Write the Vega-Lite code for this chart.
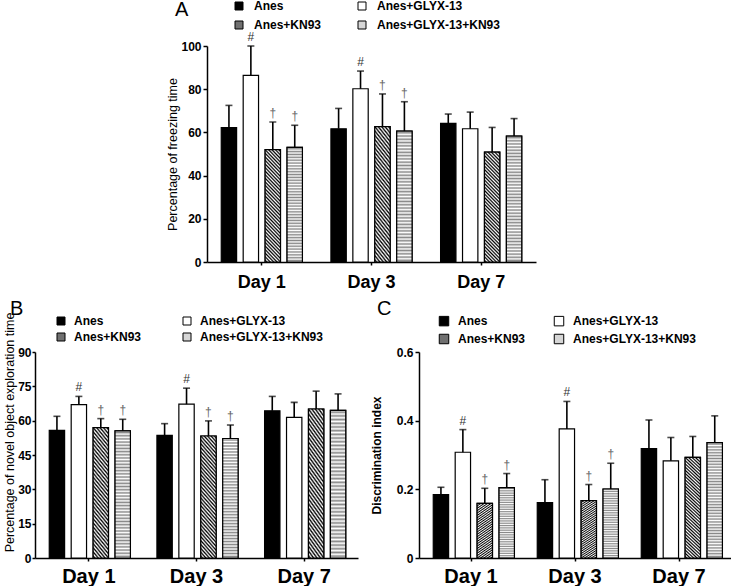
{
"$schema": "https://vega.github.io/schema/vega-lite/v6.json",
"usermeta": {"embedOptions": {"actions": false}},
"padding": {"left": 3, "top": 0, "right": 0, "bottom": 0},
"config": {
  "view": {"stroke": null},
  "font": "Liberation Sans",
  "text": {"font": "Liberation Sans"},
  "axis": {"domainColor": "black", "tickColor": "black", "labelColor": "black", "titleColor": "black", "grid": false, "domainWidth": 1.5, "tickWidth": 1.5, "labelFont": "Liberation Sans", "titleFont": "Liberation Sans"},
  "legend": {"labelColor": "black", "titleColor": "black", "labelFont": "Liberation Sans", "titleFont": "Liberation Sans", "symbolStrokeColor": "black", "symbolStrokeWidth": 1}
},
"datasets": {
  "a": [
    {"day":"Day 1","group":"Anes","value":62.2,"err":72.5,"sig":""},
    {"day":"Day 1","group":"Anes+GLYX-13","value":86.4,"err":100,"sig":"#"},
    {"day":"Day 1","group":"Anes+KN93","value":52.0,"err":64.8,"sig":"†"},
    {"day":"Day 1","group":"Anes+GLYX-13+KN93","value":53.1,"err":63.3,"sig":"†"},
    {"day":"Day 3","group":"Anes","value":61.7,"err":71.1,"sig":""},
    {"day":"Day 3","group":"Anes+GLYX-13","value":80.2,"err":88.4,"sig":"#"},
    {"day":"Day 3","group":"Anes+KN93","value":62.7,"err":77.8,"sig":"†"},
    {"day":"Day 3","group":"Anes+GLYX-13+KN93","value":60.6,"err":74.2,"sig":"†"},
    {"day":"Day 7","group":"Anes","value":64.2,"err":68.5,"sig":""},
    {"day":"Day 7","group":"Anes+GLYX-13","value":61.7,"err":69.4,"sig":""},
    {"day":"Day 7","group":"Anes+KN93","value":50.9,"err":62.3,"sig":""},
    {"day":"Day 7","group":"Anes+GLYX-13+KN93","value":58.3,"err":66.4,"sig":""}
  ],
  "b": [
    {"day":"Day 1","group":"Anes","value":55.8,"err":61.9,"sig":""},
    {"day":"Day 1","group":"Anes+GLYX-13","value":67.0,"err":70.6,"sig":"#"},
    {"day":"Day 1","group":"Anes+KN93","value":57.0,"err":60.9,"sig":"†"},
    {"day":"Day 1","group":"Anes+GLYX-13+KN93","value":55.5,"err":60.6,"sig":"†"},
    {"day":"Day 3","group":"Anes","value":53.6,"err":58.7,"sig":""},
    {"day":"Day 3","group":"Anes+GLYX-13","value":67.2,"err":74.2,"sig":"#"},
    {"day":"Day 3","group":"Anes+KN93","value":53.3,"err":59.9,"sig":"†"},
    {"day":"Day 3","group":"Anes+GLYX-13+KN93","value":52.2,"err":58.1,"sig":"†"},
    {"day":"Day 7","group":"Anes","value":64.3,"err":70.6,"sig":""},
    {"day":"Day 7","group":"Anes+GLYX-13","value":61.4,"err":68.0,"sig":""},
    {"day":"Day 7","group":"Anes+KN93","value":65.1,"err":72.9,"sig":""},
    {"day":"Day 7","group":"Anes+GLYX-13+KN93","value":64.5,"err":71.7,"sig":""}
  ],
  "c": [
    {"day":"Day 1","group":"Anes","value":0.185,"err":0.206,"sig":""},
    {"day":"Day 1","group":"Anes+GLYX-13","value":0.308,"err":0.374,"sig":"#"},
    {"day":"Day 1","group":"Anes+KN93","value":0.159,"err":0.203,"sig":"†"},
    {"day":"Day 1","group":"Anes+GLYX-13+KN93","value":0.205,"err":0.246,"sig":"†"},
    {"day":"Day 3","group":"Anes","value":0.161,"err":0.228,"sig":""},
    {"day":"Day 3","group":"Anes+GLYX-13","value":0.376,"err":0.456,"sig":"#"},
    {"day":"Day 3","group":"Anes+KN93","value":0.167,"err":0.214,"sig":"†"},
    {"day":"Day 3","group":"Anes+GLYX-13+KN93","value":0.201,"err":0.276,"sig":"†"},
    {"day":"Day 7","group":"Anes","value":0.319,"err":0.402,"sig":""},
    {"day":"Day 7","group":"Anes+GLYX-13","value":0.283,"err":0.351,"sig":""},
    {"day":"Day 7","group":"Anes+KN93","value":0.293,"err":0.354,"sig":""},
    {"day":"Day 7","group":"Anes+GLYX-13+KN93","value":0.336,"err":0.414,"sig":""}
  ]
},
"resolve": {"scale": {"fill": "independent"}, "legend": {"fill": "independent"}},
"spacing": 21,
"vconcat": [
  {
    "spacing": 0,
    "resolve": {"scale": {"fill": "independent"}, "legend": {"fill": "independent"}},
    "hconcat": [
      {"width": 131, "height": 10, "data": {"values": []}, "mark": {"type": "point", "opacity": 0}},
      {
        "width": 329, "height": 216,
        "data": {"name": "a"},
        "encoding": {
          "x": {"field": "day", "type": "nominal", "title": null, "scale": {"paddingInner": 0, "paddingOuter": 0}, "axis": {"labelAngle": 0, "labelFontSize": 18, "labelFontWeight": "bold", "tickSize": 3, "labelPadding": 8}},
          "xOffset": {"field": "group", "type": "nominal", "scale": {"domain": ["Anes","Anes+GLYX-13","Anes+KN93","Anes+GLYX-13+KN93"], "paddingInner": 0.3, "paddingOuter": 0.65}},
          "y": {"field": "value", "type": "quantitative", "title": "Percentage of freezing time", "scale": {"domain": [0, 100]}, "axis": {"values": [0,20,40,60,80,100], "titleFontSize": 12.5, "titleFontWeight": "normal", "titlePadding": 1, "labelFontSize": 12, "labelFontWeight": "bold", "tickSize": 4, "labelPadding": 2}}
        },
        "layer": [
          {"mark": {"type": "bar", "stroke": "black", "strokeWidth": 1.2},
           "encoding": {
             "fill": {"field": "group", "type": "nominal", "scale": {"domain": ["Anes","Anes+KN93","Anes+GLYX-13","Anes+GLYX-13+KN93"], "range": ["#000000","#707070","#ffffff","#d6d6d6"]},
               "legend": {"title": "A", "orient": "none", "legendX": -32, "legendY": -46, "columns": 2, "columnPadding": 34, "rowPadding": 7, "titleOrient": "left", "titleAnchor": "start", "titleFontSize": 20, "titleFontWeight": "normal", "titleBaseline": "top", "titlePadding": 44, "labelFontSize": 12, "labelFontWeight": "bold", "labelOffset": 9, "symbolType": "square", "symbolSize": 64, "padding": 0}}
           }},
          {"transform": [{"filter": "datum.group === 'Anes+KN93'"}],
           "mark": {"type": "bar", "stroke": "black", "strokeWidth": 1.2,
             "fill": {"gradient": "linear", "x1": 0, "y1": 1, "x2": 0.16, "y2": -0.12, "stops": [{"offset":0,"color":"#fff"},{"offset":0.0139,"color":"#000"},{"offset":0.0278,"color":"#fff"},{"offset":0.0417,"color":"#000"},{"offset":0.0556,"color":"#fff"},{"offset":0.0694,"color":"#000"},{"offset":0.0833,"color":"#fff"},{"offset":0.0972,"color":"#000"},{"offset":0.1111,"color":"#fff"},{"offset":0.125,"color":"#000"},{"offset":0.1389,"color":"#fff"},{"offset":0.1528,"color":"#000"},{"offset":0.1667,"color":"#fff"},{"offset":0.1806,"color":"#000"},{"offset":0.1944,"color":"#fff"},{"offset":0.2083,"color":"#000"},{"offset":0.2222,"color":"#fff"},{"offset":0.2361,"color":"#000"},{"offset":0.25,"color":"#fff"},{"offset":0.2639,"color":"#000"},{"offset":0.2778,"color":"#fff"},{"offset":0.2917,"color":"#000"},{"offset":0.3056,"color":"#fff"},{"offset":0.3194,"color":"#000"},{"offset":0.3333,"color":"#fff"},{"offset":0.3472,"color":"#000"},{"offset":0.3611,"color":"#fff"},{"offset":0.375,"color":"#000"},{"offset":0.3889,"color":"#fff"},{"offset":0.4028,"color":"#000"},{"offset":0.4167,"color":"#fff"},{"offset":0.4306,"color":"#000"},{"offset":0.4444,"color":"#fff"},{"offset":0.4583,"color":"#000"},{"offset":0.4722,"color":"#fff"},{"offset":0.4861,"color":"#000"},{"offset":0.5,"color":"#fff"},{"offset":0.5139,"color":"#000"},{"offset":0.5278,"color":"#fff"},{"offset":0.5417,"color":"#000"},{"offset":0.5556,"color":"#fff"},{"offset":0.5694,"color":"#000"},{"offset":0.5833,"color":"#fff"},{"offset":0.5972,"color":"#000"},{"offset":0.6111,"color":"#fff"},{"offset":0.625,"color":"#000"},{"offset":0.6389,"color":"#fff"},{"offset":0.6528,"color":"#000"},{"offset":0.6667,"color":"#fff"},{"offset":0.6806,"color":"#000"},{"offset":0.6944,"color":"#fff"},{"offset":0.7083,"color":"#000"},{"offset":0.7222,"color":"#fff"},{"offset":0.7361,"color":"#000"},{"offset":0.75,"color":"#fff"},{"offset":0.7639,"color":"#000"},{"offset":0.7778,"color":"#fff"},{"offset":0.7917,"color":"#000"},{"offset":0.8056,"color":"#fff"},{"offset":0.8194,"color":"#000"},{"offset":0.8333,"color":"#fff"},{"offset":0.8472,"color":"#000"},{"offset":0.8611,"color":"#fff"},{"offset":0.875,"color":"#000"},{"offset":0.8889,"color":"#fff"},{"offset":0.9028,"color":"#000"},{"offset":0.9167,"color":"#fff"},{"offset":0.9306,"color":"#000"},{"offset":0.9444,"color":"#fff"},{"offset":0.9583,"color":"#000"},{"offset":0.9722,"color":"#fff"},{"offset":0.9861,"color":"#000"},{"offset":1,"color":"#fff"}]}}},
          {"transform": [{"filter": "datum.group === 'Anes+GLYX-13+KN93'"}],
           "mark": {"type": "bar", "stroke": "black", "strokeWidth": 1.2,
             "fill": {"gradient": "linear", "x1": 0, "y1": 0, "x2": 0, "y2": 1, "stops": [{"offset":0,"color":"#fff"},{"offset":0.0125,"color":"#888"},{"offset":0.025,"color":"#fff"},{"offset":0.0375,"color":"#888"},{"offset":0.05,"color":"#fff"},{"offset":0.0625,"color":"#888"},{"offset":0.075,"color":"#fff"},{"offset":0.0875,"color":"#888"},{"offset":0.1,"color":"#fff"},{"offset":0.1125,"color":"#888"},{"offset":0.125,"color":"#fff"},{"offset":0.1375,"color":"#888"},{"offset":0.15,"color":"#fff"},{"offset":0.1625,"color":"#888"},{"offset":0.175,"color":"#fff"},{"offset":0.1875,"color":"#888"},{"offset":0.2,"color":"#fff"},{"offset":0.2125,"color":"#888"},{"offset":0.225,"color":"#fff"},{"offset":0.2375,"color":"#888"},{"offset":0.25,"color":"#fff"},{"offset":0.2625,"color":"#888"},{"offset":0.275,"color":"#fff"},{"offset":0.2875,"color":"#888"},{"offset":0.3,"color":"#fff"},{"offset":0.3125,"color":"#888"},{"offset":0.325,"color":"#fff"},{"offset":0.3375,"color":"#888"},{"offset":0.35,"color":"#fff"},{"offset":0.3625,"color":"#888"},{"offset":0.375,"color":"#fff"},{"offset":0.3875,"color":"#888"},{"offset":0.4,"color":"#fff"},{"offset":0.4125,"color":"#888"},{"offset":0.425,"color":"#fff"},{"offset":0.4375,"color":"#888"},{"offset":0.45,"color":"#fff"},{"offset":0.4625,"color":"#888"},{"offset":0.475,"color":"#fff"},{"offset":0.4875,"color":"#888"},{"offset":0.5,"color":"#fff"},{"offset":0.5125,"color":"#888"},{"offset":0.525,"color":"#fff"},{"offset":0.5375,"color":"#888"},{"offset":0.55,"color":"#fff"},{"offset":0.5625,"color":"#888"},{"offset":0.575,"color":"#fff"},{"offset":0.5875,"color":"#888"},{"offset":0.6,"color":"#fff"},{"offset":0.6125,"color":"#888"},{"offset":0.625,"color":"#fff"},{"offset":0.6375,"color":"#888"},{"offset":0.65,"color":"#fff"},{"offset":0.6625,"color":"#888"},{"offset":0.675,"color":"#fff"},{"offset":0.6875,"color":"#888"},{"offset":0.7,"color":"#fff"},{"offset":0.7125,"color":"#888"},{"offset":0.725,"color":"#fff"},{"offset":0.7375,"color":"#888"},{"offset":0.75,"color":"#fff"},{"offset":0.7625,"color":"#888"},{"offset":0.775,"color":"#fff"},{"offset":0.7875,"color":"#888"},{"offset":0.8,"color":"#fff"},{"offset":0.8125,"color":"#888"},{"offset":0.825,"color":"#fff"},{"offset":0.8375,"color":"#888"},{"offset":0.85,"color":"#fff"},{"offset":0.8625,"color":"#888"},{"offset":0.875,"color":"#fff"},{"offset":0.8875,"color":"#888"},{"offset":0.9,"color":"#fff"},{"offset":0.9125,"color":"#888"},{"offset":0.925,"color":"#fff"},{"offset":0.9375,"color":"#888"},{"offset":0.95,"color":"#fff"},{"offset":0.9625,"color":"#888"},{"offset":0.975,"color":"#fff"},{"offset":0.9875,"color":"#888"},{"offset":1,"color":"#fff"}]}}},
          {"mark": {"type": "rule", "color": "black", "strokeWidth": 1.6}, "encoding": {"y2": {"field": "err"}}},
          {"mark": {"type": "tick", "color": "black", "thickness": 1.6, "size": 7}, "encoding": {"y": {"field": "err", "type": "quantitative", "title": "Percentage of freezing time"}}},
          {"mark": {"type": "text", "baseline": "bottom", "dy": -2, "fontSize": 12}, "encoding": {"y": {"field": "err", "type": "quantitative", "title": "Percentage of freezing time"}, "text": {"field": "sig"}, "color": {"condition": {"test": "datum.sig === '#'", "value": "#333333"}, "value": "#666666"}}}
        ]
      }
    ]
  },
  {
    "spacing": 12,
    "resolve": {"scale": {"fill": "independent"}, "legend": {"fill": "independent"}},
    "hconcat": [
      {
        "width": 323, "height": 206,
        "data": {"name": "b"},
        "encoding": {
          "x": {"field": "day", "type": "nominal", "title": null, "scale": {"paddingInner": 0, "paddingOuter": 0}, "axis": {"labelAngle": 0, "labelFontSize": 20, "labelFontWeight": "bold", "tickSize": 3, "labelPadding": 5}},
          "xOffset": {"field": "group", "type": "nominal", "scale": {"domain": ["Anes","Anes+GLYX-13","Anes+KN93","Anes+GLYX-13+KN93"], "paddingInner": 0.3, "paddingOuter": 0.65}},
          "y": {"field": "value", "type": "quantitative", "title": "Percentage of novel object exploration time", "scale": {"domain": [0, 90]}, "axis": {"values": [0,15,30,45,60,75,90], "titleFontSize": 12.5, "titleFontWeight": "normal", "titlePadding": 1, "titleY": 80, "labelFontSize": 12, "labelFontWeight": "bold", "tickSize": 3, "labelPadding": 1}}
        },
        "layer": [
          {"mark": {"type": "bar", "stroke": "black", "strokeWidth": 1.2},
           "encoding": {
             "fill": {"field": "group", "type": "nominal", "scale": {"domain": ["Anes","Anes+KN93","Anes+GLYX-13","Anes+GLYX-13+KN93"], "range": ["#000000","#707070","#ffffff","#d6d6d6"]},
               "legend": {"title": "B", "orient": "none", "legendX": -25, "legendY": -37, "columns": 2, "columnPadding": 39, "rowPadding": 4, "titleOrient": "left", "titleAnchor": "start", "titleFontSize": 20, "titleFontWeight": "normal", "titleBaseline": "alphabetic", "titlePadding": 31, "labelFontSize": 12, "labelFontWeight": "bold", "labelOffset": 7, "symbolType": "square", "symbolSize": 64, "padding": 0}}
           }},
          {"transform": [{"filter": "datum.group === 'Anes+KN93'"}],
           "mark": {"type": "bar", "stroke": "black", "strokeWidth": 1.2,
             "fill": {"gradient": "linear", "x1": 0, "y1": 1, "x2": 0.16, "y2": -0.12, "stops": [{"offset":0,"color":"#fff"},{"offset":0.0139,"color":"#000"},{"offset":0.0278,"color":"#fff"},{"offset":0.0417,"color":"#000"},{"offset":0.0556,"color":"#fff"},{"offset":0.0694,"color":"#000"},{"offset":0.0833,"color":"#fff"},{"offset":0.0972,"color":"#000"},{"offset":0.1111,"color":"#fff"},{"offset":0.125,"color":"#000"},{"offset":0.1389,"color":"#fff"},{"offset":0.1528,"color":"#000"},{"offset":0.1667,"color":"#fff"},{"offset":0.1806,"color":"#000"},{"offset":0.1944,"color":"#fff"},{"offset":0.2083,"color":"#000"},{"offset":0.2222,"color":"#fff"},{"offset":0.2361,"color":"#000"},{"offset":0.25,"color":"#fff"},{"offset":0.2639,"color":"#000"},{"offset":0.2778,"color":"#fff"},{"offset":0.2917,"color":"#000"},{"offset":0.3056,"color":"#fff"},{"offset":0.3194,"color":"#000"},{"offset":0.3333,"color":"#fff"},{"offset":0.3472,"color":"#000"},{"offset":0.3611,"color":"#fff"},{"offset":0.375,"color":"#000"},{"offset":0.3889,"color":"#fff"},{"offset":0.4028,"color":"#000"},{"offset":0.4167,"color":"#fff"},{"offset":0.4306,"color":"#000"},{"offset":0.4444,"color":"#fff"},{"offset":0.4583,"color":"#000"},{"offset":0.4722,"color":"#fff"},{"offset":0.4861,"color":"#000"},{"offset":0.5,"color":"#fff"},{"offset":0.5139,"color":"#000"},{"offset":0.5278,"color":"#fff"},{"offset":0.5417,"color":"#000"},{"offset":0.5556,"color":"#fff"},{"offset":0.5694,"color":"#000"},{"offset":0.5833,"color":"#fff"},{"offset":0.5972,"color":"#000"},{"offset":0.6111,"color":"#fff"},{"offset":0.625,"color":"#000"},{"offset":0.6389,"color":"#fff"},{"offset":0.6528,"color":"#000"},{"offset":0.6667,"color":"#fff"},{"offset":0.6806,"color":"#000"},{"offset":0.6944,"color":"#fff"},{"offset":0.7083,"color":"#000"},{"offset":0.7222,"color":"#fff"},{"offset":0.7361,"color":"#000"},{"offset":0.75,"color":"#fff"},{"offset":0.7639,"color":"#000"},{"offset":0.7778,"color":"#fff"},{"offset":0.7917,"color":"#000"},{"offset":0.8056,"color":"#fff"},{"offset":0.8194,"color":"#000"},{"offset":0.8333,"color":"#fff"},{"offset":0.8472,"color":"#000"},{"offset":0.8611,"color":"#fff"},{"offset":0.875,"color":"#000"},{"offset":0.8889,"color":"#fff"},{"offset":0.9028,"color":"#000"},{"offset":0.9167,"color":"#fff"},{"offset":0.9306,"color":"#000"},{"offset":0.9444,"color":"#fff"},{"offset":0.9583,"color":"#000"},{"offset":0.9722,"color":"#fff"},{"offset":0.9861,"color":"#000"},{"offset":1,"color":"#fff"}]}}},
          {"transform": [{"filter": "datum.group === 'Anes+GLYX-13+KN93'"}],
           "mark": {"type": "bar", "stroke": "black", "strokeWidth": 1.2,
             "fill": {"gradient": "linear", "x1": 0, "y1": 0, "x2": 0, "y2": 1, "stops": [{"offset":0,"color":"#fff"},{"offset":0.0125,"color":"#888"},{"offset":0.025,"color":"#fff"},{"offset":0.0375,"color":"#888"},{"offset":0.05,"color":"#fff"},{"offset":0.0625,"color":"#888"},{"offset":0.075,"color":"#fff"},{"offset":0.0875,"color":"#888"},{"offset":0.1,"color":"#fff"},{"offset":0.1125,"color":"#888"},{"offset":0.125,"color":"#fff"},{"offset":0.1375,"color":"#888"},{"offset":0.15,"color":"#fff"},{"offset":0.1625,"color":"#888"},{"offset":0.175,"color":"#fff"},{"offset":0.1875,"color":"#888"},{"offset":0.2,"color":"#fff"},{"offset":0.2125,"color":"#888"},{"offset":0.225,"color":"#fff"},{"offset":0.2375,"color":"#888"},{"offset":0.25,"color":"#fff"},{"offset":0.2625,"color":"#888"},{"offset":0.275,"color":"#fff"},{"offset":0.2875,"color":"#888"},{"offset":0.3,"color":"#fff"},{"offset":0.3125,"color":"#888"},{"offset":0.325,"color":"#fff"},{"offset":0.3375,"color":"#888"},{"offset":0.35,"color":"#fff"},{"offset":0.3625,"color":"#888"},{"offset":0.375,"color":"#fff"},{"offset":0.3875,"color":"#888"},{"offset":0.4,"color":"#fff"},{"offset":0.4125,"color":"#888"},{"offset":0.425,"color":"#fff"},{"offset":0.4375,"color":"#888"},{"offset":0.45,"color":"#fff"},{"offset":0.4625,"color":"#888"},{"offset":0.475,"color":"#fff"},{"offset":0.4875,"color":"#888"},{"offset":0.5,"color":"#fff"},{"offset":0.5125,"color":"#888"},{"offset":0.525,"color":"#fff"},{"offset":0.5375,"color":"#888"},{"offset":0.55,"color":"#fff"},{"offset":0.5625,"color":"#888"},{"offset":0.575,"color":"#fff"},{"offset":0.5875,"color":"#888"},{"offset":0.6,"color":"#fff"},{"offset":0.6125,"color":"#888"},{"offset":0.625,"color":"#fff"},{"offset":0.6375,"color":"#888"},{"offset":0.65,"color":"#fff"},{"offset":0.6625,"color":"#888"},{"offset":0.675,"color":"#fff"},{"offset":0.6875,"color":"#888"},{"offset":0.7,"color":"#fff"},{"offset":0.7125,"color":"#888"},{"offset":0.725,"color":"#fff"},{"offset":0.7375,"color":"#888"},{"offset":0.75,"color":"#fff"},{"offset":0.7625,"color":"#888"},{"offset":0.775,"color":"#fff"},{"offset":0.7875,"color":"#888"},{"offset":0.8,"color":"#fff"},{"offset":0.8125,"color":"#888"},{"offset":0.825,"color":"#fff"},{"offset":0.8375,"color":"#888"},{"offset":0.85,"color":"#fff"},{"offset":0.8625,"color":"#888"},{"offset":0.875,"color":"#fff"},{"offset":0.8875,"color":"#888"},{"offset":0.9,"color":"#fff"},{"offset":0.9125,"color":"#888"},{"offset":0.925,"color":"#fff"},{"offset":0.9375,"color":"#888"},{"offset":0.95,"color":"#fff"},{"offset":0.9625,"color":"#888"},{"offset":0.975,"color":"#fff"},{"offset":0.9875,"color":"#888"},{"offset":1,"color":"#fff"}]}}},
          {"mark": {"type": "rule", "color": "black", "strokeWidth": 1.6}, "encoding": {"y2": {"field": "err"}}},
          {"mark": {"type": "tick", "color": "black", "thickness": 1.6, "size": 7}, "encoding": {"y": {"field": "err", "type": "quantitative", "title": "Percentage of novel object exploration time"}}},
          {"mark": {"type": "text", "baseline": "bottom", "dy": -2, "fontSize": 12}, "encoding": {"y": {"field": "err", "type": "quantitative", "title": "Percentage of novel object exploration time"}, "text": {"field": "sig"}, "color": {"condition": {"test": "datum.sig === '#'", "value": "#333333"}, "value": "#666666"}}}
        ]
      },
      {
        "width": 312, "height": 206,
        "data": {"name": "c"},
        "encoding": {
          "x": {"field": "day", "type": "nominal", "title": null, "scale": {"paddingInner": 0, "paddingOuter": 0}, "axis": {"labelAngle": 0, "labelFontSize": 20, "labelFontWeight": "bold", "tickSize": 3, "labelPadding": 5}},
          "xOffset": {"field": "group", "type": "nominal", "scale": {"domain": ["Anes","Anes+GLYX-13","Anes+KN93","Anes+GLYX-13+KN93"], "paddingInner": 0.3, "paddingOuter": 0.65}},
          "y": {"field": "value", "type": "quantitative", "title": "Discrimination index", "scale": {"domain": [0, 0.6]}, "axis": {"values": [0,0.2,0.4,0.6], "labelExpr": "datum.value === 0 ? '0' : format(datum.value, '.1f')", "titleFontSize": 12, "titleFontWeight": "bold", "titlePadding": 13, "labelFontSize": 12, "labelFontWeight": "bold", "tickSize": 4, "labelPadding": 2}}
        },
        "layer": [
          {"mark": {"type": "bar", "stroke": "black", "strokeWidth": 1.2},
           "encoding": {
             "fill": {"field": "group", "type": "nominal", "scale": {"domain": ["Anes","Anes+KN93","Anes+GLYX-13","Anes+GLYX-13+KN93"], "range": ["#000000","#707070","#ffffff","#d6d6d6"]},
               "legend": {"title": "C", "orient": "none", "legendX": -42, "legendY": -37, "columns": 2, "columnPadding": 26, "rowPadding": 4, "titleOrient": "left", "titleAnchor": "start", "titleFontSize": 20, "titleFontWeight": "normal", "titleBaseline": "alphabetic", "titlePadding": 46, "labelFontSize": 12, "labelFontWeight": "bold", "labelOffset": 8, "symbolType": "square", "symbolSize": 90, "padding": 0}}
           }},
          {"transform": [{"filter": "datum.group === 'Anes+KN93'"}],
           "mark": {"type": "bar", "stroke": "black", "strokeWidth": 1.2,
             "fill": {"gradient": "linear", "x1": 0, "y1": 1, "x2": 0.16, "y2": -0.12, "stops": [{"offset":0,"color":"#fff"},{"offset":0.0139,"color":"#000"},{"offset":0.0278,"color":"#fff"},{"offset":0.0417,"color":"#000"},{"offset":0.0556,"color":"#fff"},{"offset":0.0694,"color":"#000"},{"offset":0.0833,"color":"#fff"},{"offset":0.0972,"color":"#000"},{"offset":0.1111,"color":"#fff"},{"offset":0.125,"color":"#000"},{"offset":0.1389,"color":"#fff"},{"offset":0.1528,"color":"#000"},{"offset":0.1667,"color":"#fff"},{"offset":0.1806,"color":"#000"},{"offset":0.1944,"color":"#fff"},{"offset":0.2083,"color":"#000"},{"offset":0.2222,"color":"#fff"},{"offset":0.2361,"color":"#000"},{"offset":0.25,"color":"#fff"},{"offset":0.2639,"color":"#000"},{"offset":0.2778,"color":"#fff"},{"offset":0.2917,"color":"#000"},{"offset":0.3056,"color":"#fff"},{"offset":0.3194,"color":"#000"},{"offset":0.3333,"color":"#fff"},{"offset":0.3472,"color":"#000"},{"offset":0.3611,"color":"#fff"},{"offset":0.375,"color":"#000"},{"offset":0.3889,"color":"#fff"},{"offset":0.4028,"color":"#000"},{"offset":0.4167,"color":"#fff"},{"offset":0.4306,"color":"#000"},{"offset":0.4444,"color":"#fff"},{"offset":0.4583,"color":"#000"},{"offset":0.4722,"color":"#fff"},{"offset":0.4861,"color":"#000"},{"offset":0.5,"color":"#fff"},{"offset":0.5139,"color":"#000"},{"offset":0.5278,"color":"#fff"},{"offset":0.5417,"color":"#000"},{"offset":0.5556,"color":"#fff"},{"offset":0.5694,"color":"#000"},{"offset":0.5833,"color":"#fff"},{"offset":0.5972,"color":"#000"},{"offset":0.6111,"color":"#fff"},{"offset":0.625,"color":"#000"},{"offset":0.6389,"color":"#fff"},{"offset":0.6528,"color":"#000"},{"offset":0.6667,"color":"#fff"},{"offset":0.6806,"color":"#000"},{"offset":0.6944,"color":"#fff"},{"offset":0.7083,"color":"#000"},{"offset":0.7222,"color":"#fff"},{"offset":0.7361,"color":"#000"},{"offset":0.75,"color":"#fff"},{"offset":0.7639,"color":"#000"},{"offset":0.7778,"color":"#fff"},{"offset":0.7917,"color":"#000"},{"offset":0.8056,"color":"#fff"},{"offset":0.8194,"color":"#000"},{"offset":0.8333,"color":"#fff"},{"offset":0.8472,"color":"#000"},{"offset":0.8611,"color":"#fff"},{"offset":0.875,"color":"#000"},{"offset":0.8889,"color":"#fff"},{"offset":0.9028,"color":"#000"},{"offset":0.9167,"color":"#fff"},{"offset":0.9306,"color":"#000"},{"offset":0.9444,"color":"#fff"},{"offset":0.9583,"color":"#000"},{"offset":0.9722,"color":"#fff"},{"offset":0.9861,"color":"#000"},{"offset":1,"color":"#fff"}]}}},
          {"transform": [{"filter": "datum.group === 'Anes+GLYX-13+KN93'"}],
           "mark": {"type": "bar", "stroke": "black", "strokeWidth": 1.2,
             "fill": {"gradient": "linear", "x1": 0, "y1": 0, "x2": 0, "y2": 1, "stops": [{"offset":0,"color":"#fff"},{"offset":0.0125,"color":"#888"},{"offset":0.025,"color":"#fff"},{"offset":0.0375,"color":"#888"},{"offset":0.05,"color":"#fff"},{"offset":0.0625,"color":"#888"},{"offset":0.075,"color":"#fff"},{"offset":0.0875,"color":"#888"},{"offset":0.1,"color":"#fff"},{"offset":0.1125,"color":"#888"},{"offset":0.125,"color":"#fff"},{"offset":0.1375,"color":"#888"},{"offset":0.15,"color":"#fff"},{"offset":0.1625,"color":"#888"},{"offset":0.175,"color":"#fff"},{"offset":0.1875,"color":"#888"},{"offset":0.2,"color":"#fff"},{"offset":0.2125,"color":"#888"},{"offset":0.225,"color":"#fff"},{"offset":0.2375,"color":"#888"},{"offset":0.25,"color":"#fff"},{"offset":0.2625,"color":"#888"},{"offset":0.275,"color":"#fff"},{"offset":0.2875,"color":"#888"},{"offset":0.3,"color":"#fff"},{"offset":0.3125,"color":"#888"},{"offset":0.325,"color":"#fff"},{"offset":0.3375,"color":"#888"},{"offset":0.35,"color":"#fff"},{"offset":0.3625,"color":"#888"},{"offset":0.375,"color":"#fff"},{"offset":0.3875,"color":"#888"},{"offset":0.4,"color":"#fff"},{"offset":0.4125,"color":"#888"},{"offset":0.425,"color":"#fff"},{"offset":0.4375,"color":"#888"},{"offset":0.45,"color":"#fff"},{"offset":0.4625,"color":"#888"},{"offset":0.475,"color":"#fff"},{"offset":0.4875,"color":"#888"},{"offset":0.5,"color":"#fff"},{"offset":0.5125,"color":"#888"},{"offset":0.525,"color":"#fff"},{"offset":0.5375,"color":"#888"},{"offset":0.55,"color":"#fff"},{"offset":0.5625,"color":"#888"},{"offset":0.575,"color":"#fff"},{"offset":0.5875,"color":"#888"},{"offset":0.6,"color":"#fff"},{"offset":0.6125,"color":"#888"},{"offset":0.625,"color":"#fff"},{"offset":0.6375,"color":"#888"},{"offset":0.65,"color":"#fff"},{"offset":0.6625,"color":"#888"},{"offset":0.675,"color":"#fff"},{"offset":0.6875,"color":"#888"},{"offset":0.7,"color":"#fff"},{"offset":0.7125,"color":"#888"},{"offset":0.725,"color":"#fff"},{"offset":0.7375,"color":"#888"},{"offset":0.75,"color":"#fff"},{"offset":0.7625,"color":"#888"},{"offset":0.775,"color":"#fff"},{"offset":0.7875,"color":"#888"},{"offset":0.8,"color":"#fff"},{"offset":0.8125,"color":"#888"},{"offset":0.825,"color":"#fff"},{"offset":0.8375,"color":"#888"},{"offset":0.85,"color":"#fff"},{"offset":0.8625,"color":"#888"},{"offset":0.875,"color":"#fff"},{"offset":0.8875,"color":"#888"},{"offset":0.9,"color":"#fff"},{"offset":0.9125,"color":"#888"},{"offset":0.925,"color":"#fff"},{"offset":0.9375,"color":"#888"},{"offset":0.95,"color":"#fff"},{"offset":0.9625,"color":"#888"},{"offset":0.975,"color":"#fff"},{"offset":0.9875,"color":"#888"},{"offset":1,"color":"#fff"}]}}},
          {"mark": {"type": "rule", "color": "black", "strokeWidth": 1.6}, "encoding": {"y2": {"field": "err"}}},
          {"mark": {"type": "tick", "color": "black", "thickness": 1.6, "size": 7}, "encoding": {"y": {"field": "err", "type": "quantitative", "title": "Discrimination index"}}},
          {"mark": {"type": "text", "baseline": "bottom", "dy": -2, "fontSize": 12}, "encoding": {"y": {"field": "err", "type": "quantitative", "title": "Discrimination index"}, "text": {"field": "sig"}, "color": {"condition": {"test": "datum.sig === '#'", "value": "#333333"}, "value": "#666666"}}}
        ]
      }
    ]
  }
]
}
